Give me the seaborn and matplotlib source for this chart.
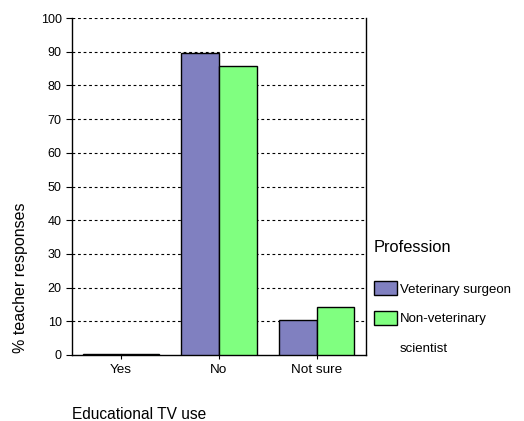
import pandas as pd
import numpy as np
import matplotlib
matplotlib.use('Agg')
import matplotlib.pyplot as plt
import matplotlib.patches as mpatches
import seaborn as sns

categories = ['Yes', 'No', 'Not sure']
professions = ['Veterinary surgeon', 'Non-veterinary scientist']
vet_values = [0.2, 89.6, 10.4]
nonvet_values = [0.2, 85.8, 14.2]
yticks = [0, 10, 20, 30, 40, 50, 60, 70, 80, 90, 100]
colors = ['#8080C0', '#80FF80']


def run_visualization():
    sns.set_style("white")
    plt.rcParams['font.family'] = ['Liberation Sans', 'DejaVu Sans']
    plt.rcParams['text.color'] = 'black'
    plt.rcParams['axes.labelcolor'] = 'black'
    plt.rcParams['xtick.color'] = 'black'
    plt.rcParams['ytick.color'] = 'black'

    df = pd.DataFrame({
        'use': categories * 2,
        'profession': [professions[0]] * 3 + [professions[1]] * 3,
        'pct': vet_values + nonvet_values,
    })

    fig = plt.figure(figsize=(5.24, 4.21), dpi=100)
    ax = fig.add_axes([0.1374, 0.1568, 0.5606, 0.8003])

    sns.barplot(data=df, x='use', y='pct', hue='profession', order=categories,
                hue_order=professions, palette=colors, width=0.77,
                edgecolor='black', linewidth=1.0, saturation=1, ax=ax, zorder=3)

    ax.set_ylim(0, 100)
    ax.set_xlim(-0.5, 2.5)
    ax.set_yticks(yticks)
    ax.set_yticklabels([str(t) for t in yticks], fontsize=9)
    ax.tick_params(axis='x', labelsize=9.7, length=3, width=0.8, direction='out', bottom=True)
    ax.tick_params(axis='y', length=4, width=0.8, direction='out', left=True)
    for t in yticks[1:]:
        ax.axhline(t, color='black', linestyle=(0, (2.5, 2.5)), linewidth=0.8, zorder=1)

    for side in ['left', 'right', 'bottom']:
        ax.spines[side].set_visible(True)
        ax.spines[side].set_color('black')
        ax.spines[side].set_linewidth(1.0)
    ax.spines['top'].set_visible(False)

    ax.set_xlabel('Educational TV use', fontsize=11.2)
    ax.xaxis.set_label_coords(0.0, -0.155)
    ax.xaxis.label.set_horizontalalignment('left')
    ax.set_ylabel('% teacher responses', fontsize=11.5)
    ax.yaxis.set_label_coords(-0.15, 0.23)

    handles, _ = ax.get_legend_handles_labels()
    blank = mpatches.Patch(facecolor='none', edgecolor='none')
    leg = ax.legend([handles[0], handles[1], blank],
                    ['Veterinary surgeon', 'Non-veterinary', 'scientist'],
                    title='Profession', loc='upper left', bbox_to_anchor=(1.0, 0.365),
                    frameon=False, fontsize=9.5, title_fontsize=11.8,
                    handlelength=1.8, handleheight=1.25, handletextpad=0.2,
                    labelspacing=1.15, borderaxespad=0.2)
    leg._legend_box.align = 'left'
    leg._legend_box.sep = 19

    fig.savefig('out.png', dpi=100)
    plt.close(fig)


if __name__ == "__main__":
    run_visualization()
